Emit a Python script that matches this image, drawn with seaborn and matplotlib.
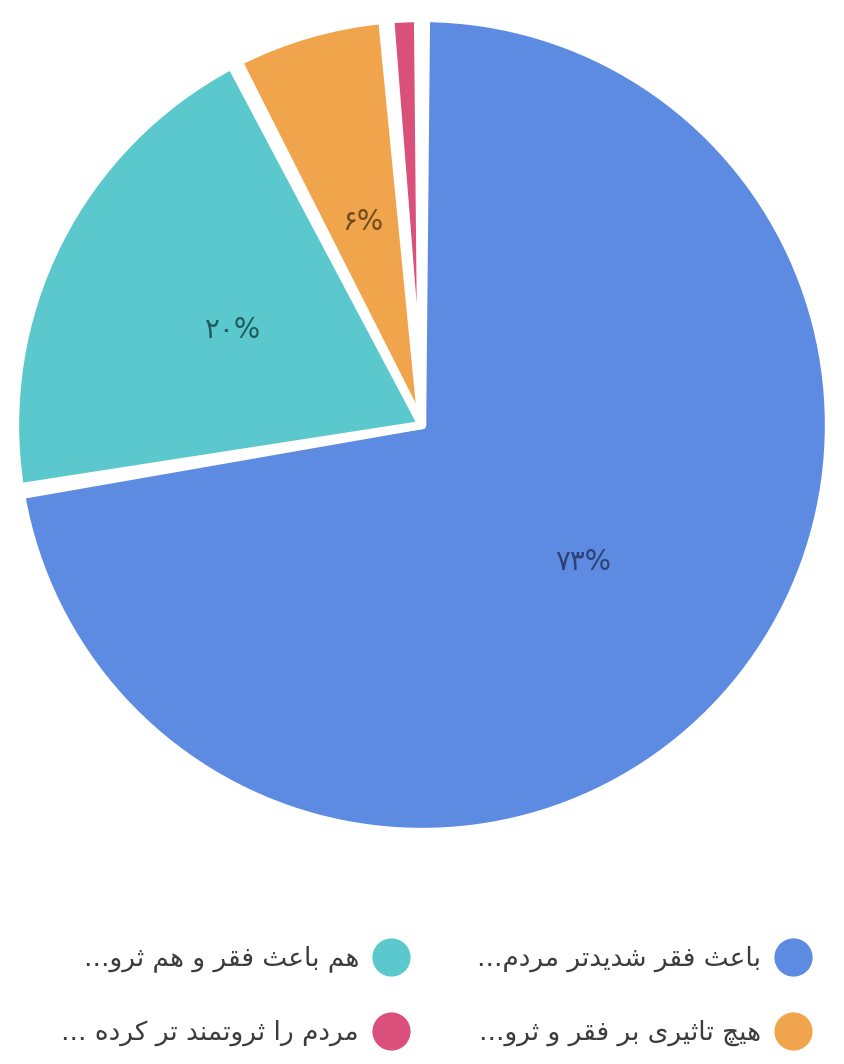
import matplotlib
matplotlib.use("Agg")
import matplotlib.pyplot as plt
from matplotlib.lines import Line2D
import seaborn as sns

# ---- data ----
categories = [
    "باعث فقر شدیدتر مردم...",
    "هم باعث فقر و هم ثرو...",
    "هیچ تاثیری بر فقر و ثرو...",
    "مردم را ثروتمند تر کرده ...",
]
values = [72.4, 20.0, 6.2, 1.4]
pct_labels = ["۷۳%", "۲۰%", "۶%", ""]
slice_colors = ["#5D8BE2", "#5BC8CE", "#F0A54D", "#D9507A"]
label_colors = ["#2C4274", "#1F5C60", "#6E4A1C", "#6A1F38"]

# ---- minimal Arabic/Persian shaping (matplotlib has no complex text layout) ----
FORMS = {
    'ا': ('\uFE8D', '\uFE8E', None, None),
    'ب': ('\uFE8F', '\uFE90', '\uFE91', '\uFE92'),
    'ت': ('\uFE95', '\uFE96', '\uFE97', '\uFE98'),
    'ث': ('\uFE99', '\uFE9A', '\uFE9B', '\uFE9C'),
    'د': ('\uFEA9', '\uFEAA', None, None),
    'ر': ('\uFEAD', '\uFEAE', None, None),
    'ش': ('\uFEB5', '\uFEB6', '\uFEB7', '\uFEB8'),
    'ع': ('\uFEC9', '\uFECA', '\uFECB', '\uFECC'),
    'ف': ('\uFED1', '\uFED2', '\uFED3', '\uFED4'),
    'ق': ('\uFED5', '\uFED6', '\uFED7', '\uFED8'),
    'م': ('\uFEE1', '\uFEE2', '\uFEE3', '\uFEE4'),
    'ن': ('\uFEE5', '\uFEE6', '\uFEE7', '\uFEE8'),
    'ه': ('\uFEE9', '\uFEEA', '\uFEEB', '\uFEEC'),
    'و': ('\uFEED', '\uFEEE', None, None),
    'ی': ('\uFBFC', '\uFBFD', '\uFBFE', '\uFBFF'),
    'ک': ('\uFB8E', '\uFB8F', '\uFB90', '\uFB91'),
    'چ': ('\uFB7A', '\uFB7B', '\uFB7C', '\uFB7D'),
}


def shape_rtl(s):
    out = []
    n = len(s)
    for i, c in enumerate(s):
        if c not in FORMS:
            out.append(c)
            continue
        iso, fin, ini, med = FORMS[c]
        prev_joins = i > 0 and s[i - 1] in FORMS and FORMS[s[i - 1]][2] is not None
        next_joins = ini is not None and i + 1 < n and s[i + 1] in FORMS
        if prev_joins and next_joins:
            g = med
        elif prev_joins:
            g = fin
        elif next_joins:
            g = ini
        else:
            g = iso
        out.append(g)
    return "".join(reversed(out))


sns.set_theme(style="white")
plt.rcParams["font.family"] = ["DejaVu Sans"]
palette = sns.color_palette(slice_colors)

W, H = 845, 1064
fig = plt.figure(figsize=(W / 100, H / 100), dpi=100)
fig.patch.set_facecolor("white")

cx, cy, R = 422, 425, 407
ax = fig.add_axes([(cx - R) / W, (H - cy - R) / H, 2 * R / W, 2 * R / H])
ax.set_axis_off()

_lab = iter(pct_labels)
wedges, texts, autotexts = ax.pie(
    values,
    colors=palette,
    startangle=90,
    counterclock=False,
    radius=1.0,
    autopct=lambda p: next(_lab),
    pctdistance=0.52,
    wedgeprops=dict(edgecolor="white", linewidth=6.0, joinstyle="round"),
    textprops=dict(fontsize=20),
)
# small angular padding between slices
pad = 0.55
for w in wedges:
    w.set_theta1(w.theta1 + pad)
    w.set_theta2(w.theta2 - pad)
for t, c in zip(autotexts, label_colors):
    t.set_color(c)
ax.set_xlim(-1, 1)
ax.set_ylim(-1, 1)
ax.set_aspect("equal")

# ---- legend (RTL, two columns, marker on the right) ----
legend_pos = [(761, 957), (359, 957), (761, 1031), (359, 1031)]
for (x, y), label, col in zip(legend_pos, categories, slice_colors):
    fig.text(x / W, (H - y - 2) / H, shape_rtl(label), ha="right", va="center",
             fontsize=19, color="#3C3C3C")
    fig.add_artist(Line2D([(x + 32) / W], [(H - y) / H], marker="o",
                          markersize=26.5, color=col, linestyle="none",
                          transform=fig.transFigure))

fig.savefig("out.png", dpi=100, facecolor="white")
